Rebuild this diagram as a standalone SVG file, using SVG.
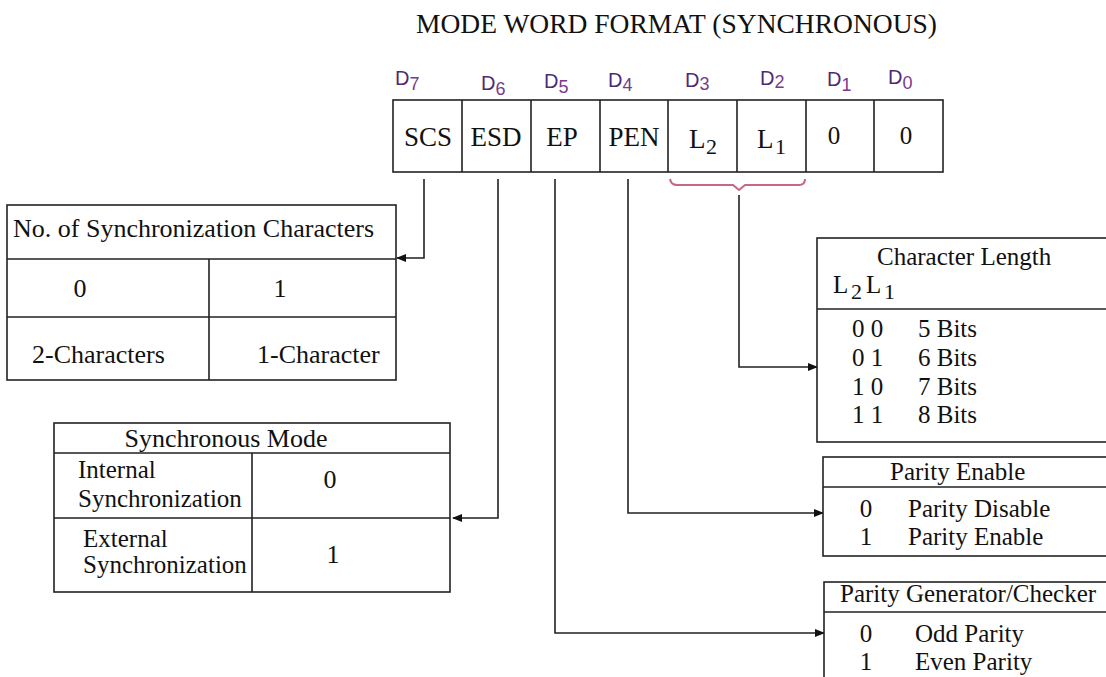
<svg xmlns="http://www.w3.org/2000/svg" width="1106" height="677" viewBox="0 0 1106 677">
<defs>
<style>
.t{font-family:"Liberation Serif","Times New Roman",serif;fill:#111;}
.f26{font-size:26px;}
.f25{font-size:25px;}
.f27{font-size:27px;}
.sub{font-size:22px;}
.d{font-family:"Liberation Sans",Arial,sans-serif;font-size:20px;fill:#4e2a74;}
.ds{font-family:"Liberation Sans",Arial,sans-serif;font-size:18px;fill:#7a3a8c;}
.box{fill:#fff;stroke:#222;stroke-width:1.6;}
.ln{fill:none;stroke:#222;stroke-width:1.6;}
.c{text-anchor:middle;}
</style>
<marker id="arr" markerWidth="10" markerHeight="8" refX="9" refY="4" orient="auto" markerUnits="userSpaceOnUse">
<path d="M0,0 L10,4 L0,8 Z" fill="#111"/>
</marker>
</defs>
<rect width="1106" height="677" fill="#fff"/>

<g id="title">
<text class="t" x="416" y="33" font-size="28" textLength="521" lengthAdjust="spacingAndGlyphs">MODE WORD FORMAT (SYNCHRONOUS)</text>
</g>

<g id="register">
<rect class="box" x="393" y="100" width="550" height="72"/>
<path class="ln" d="M462,100V172M531,100V172M600,100V172M668,100V172M737,100V172M806,100V172M874,100V172"/>
<text class="t f27 c" x="428" y="146">SCS</text>
<text class="t f27 c" x="496" y="146">ESD</text>
<text class="t f27 c" x="562" y="146">EP</text>
<text class="t f27 c" x="634" y="146">PEN</text>
<text class="t f27" x="689" y="148">L<tspan class="sub" x="706" dy="6">2</tspan></text>
<text class="t f27" x="757" y="148">L<tspan class="sub" x="775" dy="6">1</tspan></text>
<text class="t f25 c" x="834" y="144">0</text>
<text class="t f25 c" x="906" y="144">0</text>
</g>

<g id="bit-labels">
<text class="d" x="395" y="85">D<tspan class="ds" dy="5">7</tspan></text>
<text class="d" x="481" y="90">D<tspan class="ds" dy="5">6</tspan></text>
<text class="d" x="544" y="88">D<tspan class="ds" dy="5">5</tspan></text>
<text class="d" x="608" y="87">D<tspan class="ds" dy="4">4</tspan></text>
<text class="d" x="685" y="87">D<tspan class="ds" dy="3">3</tspan></text>
<text class="d" x="760" y="85">D<tspan class="ds" dy="3">2</tspan></text>
<text class="d" x="827" y="86">D<tspan class="ds" dy="5">1</tspan></text>
<text class="d" x="888" y="84">D<tspan class="ds" dy="5">0</tspan></text>
</g>

<g id="brace">
<path d="M670,179 Q671,185 677,185 H733 L739,190 L745,185 H799 Q805,185 805,179" fill="none" stroke="#c8668a" stroke-width="2"/>
</g>

<g id="connectors">
<path class="ln" d="M424,179V258H397" marker-end="url(#arr)"/>
<path class="ln" d="M498,179V518H453" marker-end="url(#arr)"/>
<path class="ln" d="M555,179V633H824" marker-end="url(#arr)"/>
<path class="ln" d="M628,179V513H823" marker-end="url(#arr)"/>
<path class="ln" d="M739,195V367H817" marker-end="url(#arr)"/>
</g>

<g id="sync-chars">
<rect class="box" x="7" y="205" width="389" height="175"/>
<path class="ln" d="M7,259H396M7,317H396M209,259V380"/>
<text class="t f26" x="13" y="237">No. of Synchronization Characters</text>
<text class="t f26 c" x="80" y="297">0</text>
<text class="t f26 c" x="280" y="297">1</text>
<text class="t f26" x="32" y="363">2-Characters</text>
<text class="t f26" x="257" y="363">1-Character</text>
</g>

<g id="sync-mode">
<rect class="box" x="54" y="423" width="396" height="169"/>
<path class="ln" d="M54,453H450M54,518H450M252,453V592"/>
<text class="t f26 c" x="226" y="447">Synchronous Mode</text>
<text class="t f25" x="78" y="478">Internal</text>
<text class="t f25" x="78" y="507">Synchronization</text>
<text class="t f26 c" x="330" y="488">0</text>
<text class="t f25" x="83" y="547">External</text>
<text class="t f25" x="83" y="573">Synchronization</text>
<text class="t f26 c" x="333" y="563">1</text>
</g>

<g id="char-length">
<rect class="box" x="817" y="238" width="300" height="204"/>
<path class="ln" d="M817,309H1117"/>
<text class="t f25" x="877" y="265">Character Length</text>
<text class="t f25" x="833" y="293">L<tspan class="sub" x="851" dy="6">2</tspan><tspan x="866" dy="-6">L</tspan><tspan class="sub" x="884" dy="6">1</tspan></text>
<text class="t f25" x="852" y="337">0 0</text>
<text class="t f25" x="918" y="337">5 Bits</text>
<text class="t f25" x="852" y="366">0 1</text>
<text class="t f25" x="918" y="366">6 Bits</text>
<text class="t f25" x="852" y="395">1 0</text>
<text class="t f25" x="918" y="395">7 Bits</text>
<text class="t f25" x="852" y="423">1 1</text>
<text class="t f25" x="918" y="423">8 Bits</text>
</g>

<g id="parity-enable">
<rect class="box" x="823" y="457" width="300" height="99"/>
<path class="ln" d="M823,487H1123"/>
<text class="t f25" x="890" y="480">Parity Enable</text>
<text class="t f25 c" x="866" y="517">0</text>
<text class="t f25" x="908" y="517">Parity Disable</text>
<text class="t f25 c" x="866" y="545">1</text>
<text class="t f25" x="908" y="545">Parity Enable</text>
</g>

<g id="parity-gen">
<rect class="box" x="824" y="582" width="300" height="120"/>
<path class="ln" d="M824,612H1124"/>
<text class="t f25" x="840" y="602">Parity Generator/Checker</text>
<text class="t f25 c" x="866" y="642">0</text>
<text class="t f25" x="915" y="642">Odd Parity</text>
<text class="t f25 c" x="866" y="670">1</text>
<text class="t f25" x="915" y="670">Even Parity</text>
</g>
</svg>
